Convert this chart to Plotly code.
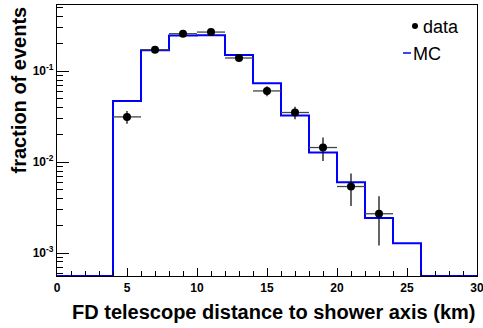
import plotly.graph_objects as go
import numpy as np

# bin edges (km), 2 km bins
bin_edges = [0, 2, 4, 6, 8, 10, 12, 14, 16, 18, 20, 22, 24, 26, 28, 30]
mc_values = [0, 0, 0.047, 0.170, 0.247, 0.249, 0.151, 0.0738, 0.0326, 0.0128,
             0.0060, 0.00243, 0.00128, 0, 0]

data_x = [5, 7, 9, 11, 13, 15, 17, 19, 21, 23]
data_y = [0.0315, 0.173, 0.259, 0.270, 0.140, 0.0608, 0.0352, 0.0145, 0.0054, 0.00271]
data_yerr = [0.005, 0.006, 0.007, 0.007, 0.006, 0.0077, 0.0056, 0.0042, 0.0021, 0.0015]
data_xerr = [1] * len(data_x)

y_min, y_max = 5.6e-4, 0.536
x_ticks = [0, 5, 10, 15, 20, 25, 30]
y_ticks = [1e-3, 1e-2, 1e-1]
y_ticktext = ["<b>10<sup>-3</sup></b>", "<b>10<sup>-2</sup></b>", "<b>10<sup>-1</sup></b>"]

FONT = "Liberation Sans, Arial, Helvetica, sans-serif"

mc_plot = [v if v > 0 else y_min for v in mc_values]
mc_plot = mc_plot + [mc_plot[-1]]

fig = go.Figure()
fig.add_trace(go.Scatter(
    x=bin_edges, y=mc_plot, mode="lines", line=dict(color="#0000ff", width=2, shape="hv"),
    showlegend=False, cliponaxis=False))
fig.add_trace(go.Scatter(
    x=data_x, y=data_y, mode="markers",
    marker=dict(color="black", size=8),
    error_x=dict(type="data", array=data_xerr, color="#444444", thickness=1.3, width=0),
    error_y=dict(type="data", array=data_yerr, color="#111111", thickness=1.3, width=0),
    showlegend=False))

minor_y = [m * 10.0 ** e for e in (-4, -3, -2, -1) for m in range(2, 10)]
minor_y = [v for v in minor_y if y_min <= v <= y_max]

fig.update_layout(
    width=483, height=328,
    margin=dict(l=57, r=6, t=5, b=52, autoexpand=False),
    plot_bgcolor="white", paper_bgcolor="white",
    font=dict(family=FONT, color="black"),
    xaxis=dict(range=[0, 30], tickvals=x_ticks, ticktext=[f"<b>{t}</b>" for t in x_ticks],
               ticks="inside", ticklen=8, tickwidth=1, tickcolor="black",
               minor=dict(ticks="inside", ticklen=5, dtick=1, tickcolor="black", tickwidth=1),
               showline=True, linecolor="black", linewidth=1.3, mirror=True,
               showgrid=False, zeroline=False, tickfont=dict(size=12),
               ticklabeloverflow="allow", automargin=False),
    yaxis=dict(type="log", range=[np.log10(y_min), np.log10(y_max)],
               tickvals=y_ticks, ticktext=y_ticktext,
               ticks="inside", ticklen=12, tickwidth=1, tickcolor="black",
               minor=dict(ticks="inside", ticklen=6, tickmode="array", tickvals=minor_y,
                          tickcolor="black", tickwidth=1),
               showline=True, linecolor="black", linewidth=1.3, mirror=True,
               showgrid=False, zeroline=False, tickfont=dict(size=12), automargin=False),
    annotations=[
        dict(text="<b>FD telescope distance to shower axis (km)</b>", xref="paper", yref="paper",
             x=1, y=0, yshift=-36, xanchor="right", yanchor="middle", showarrow=False,
             font=dict(size=20)),
        dict(text="<b>fraction of events</b>", xref="paper", yref="paper",
             x=0, xshift=-39, y=1, yanchor="top", xanchor="center", textangle=-90,
             showarrow=False, font=dict(size=20)),
        dict(text="data", xref="paper", yref="paper", x=(421 - 57) / 420, y=(276 - 27) / 271,
             xanchor="left", yanchor="middle", showarrow=False, font=dict(size=18)),
        dict(text="MC", xref="paper", yref="paper", x=(411 - 57) / 420, y=(276 - 54) / 271,
             xanchor="left", yanchor="middle", showarrow=False, font=dict(size=18)),
    ],
    shapes=[
        dict(type="circle", xref="paper", yref="paper",
             x0=(412 - 57) / 420, x1=(418 - 57) / 420,
             y0=(276 - 29) / 271, y1=(276 - 23) / 271,
             fillcolor="black", line=dict(width=0)),
        dict(type="line", xref="paper", yref="paper",
             x0=(403 - 57) / 420, x1=(411 - 57) / 420,
             y0=(276 - 53) / 271, y1=(276 - 53) / 271,
             line=dict(color="#0000ff", width=1.5)),
    ],
)

fig.write_html("out.html")
